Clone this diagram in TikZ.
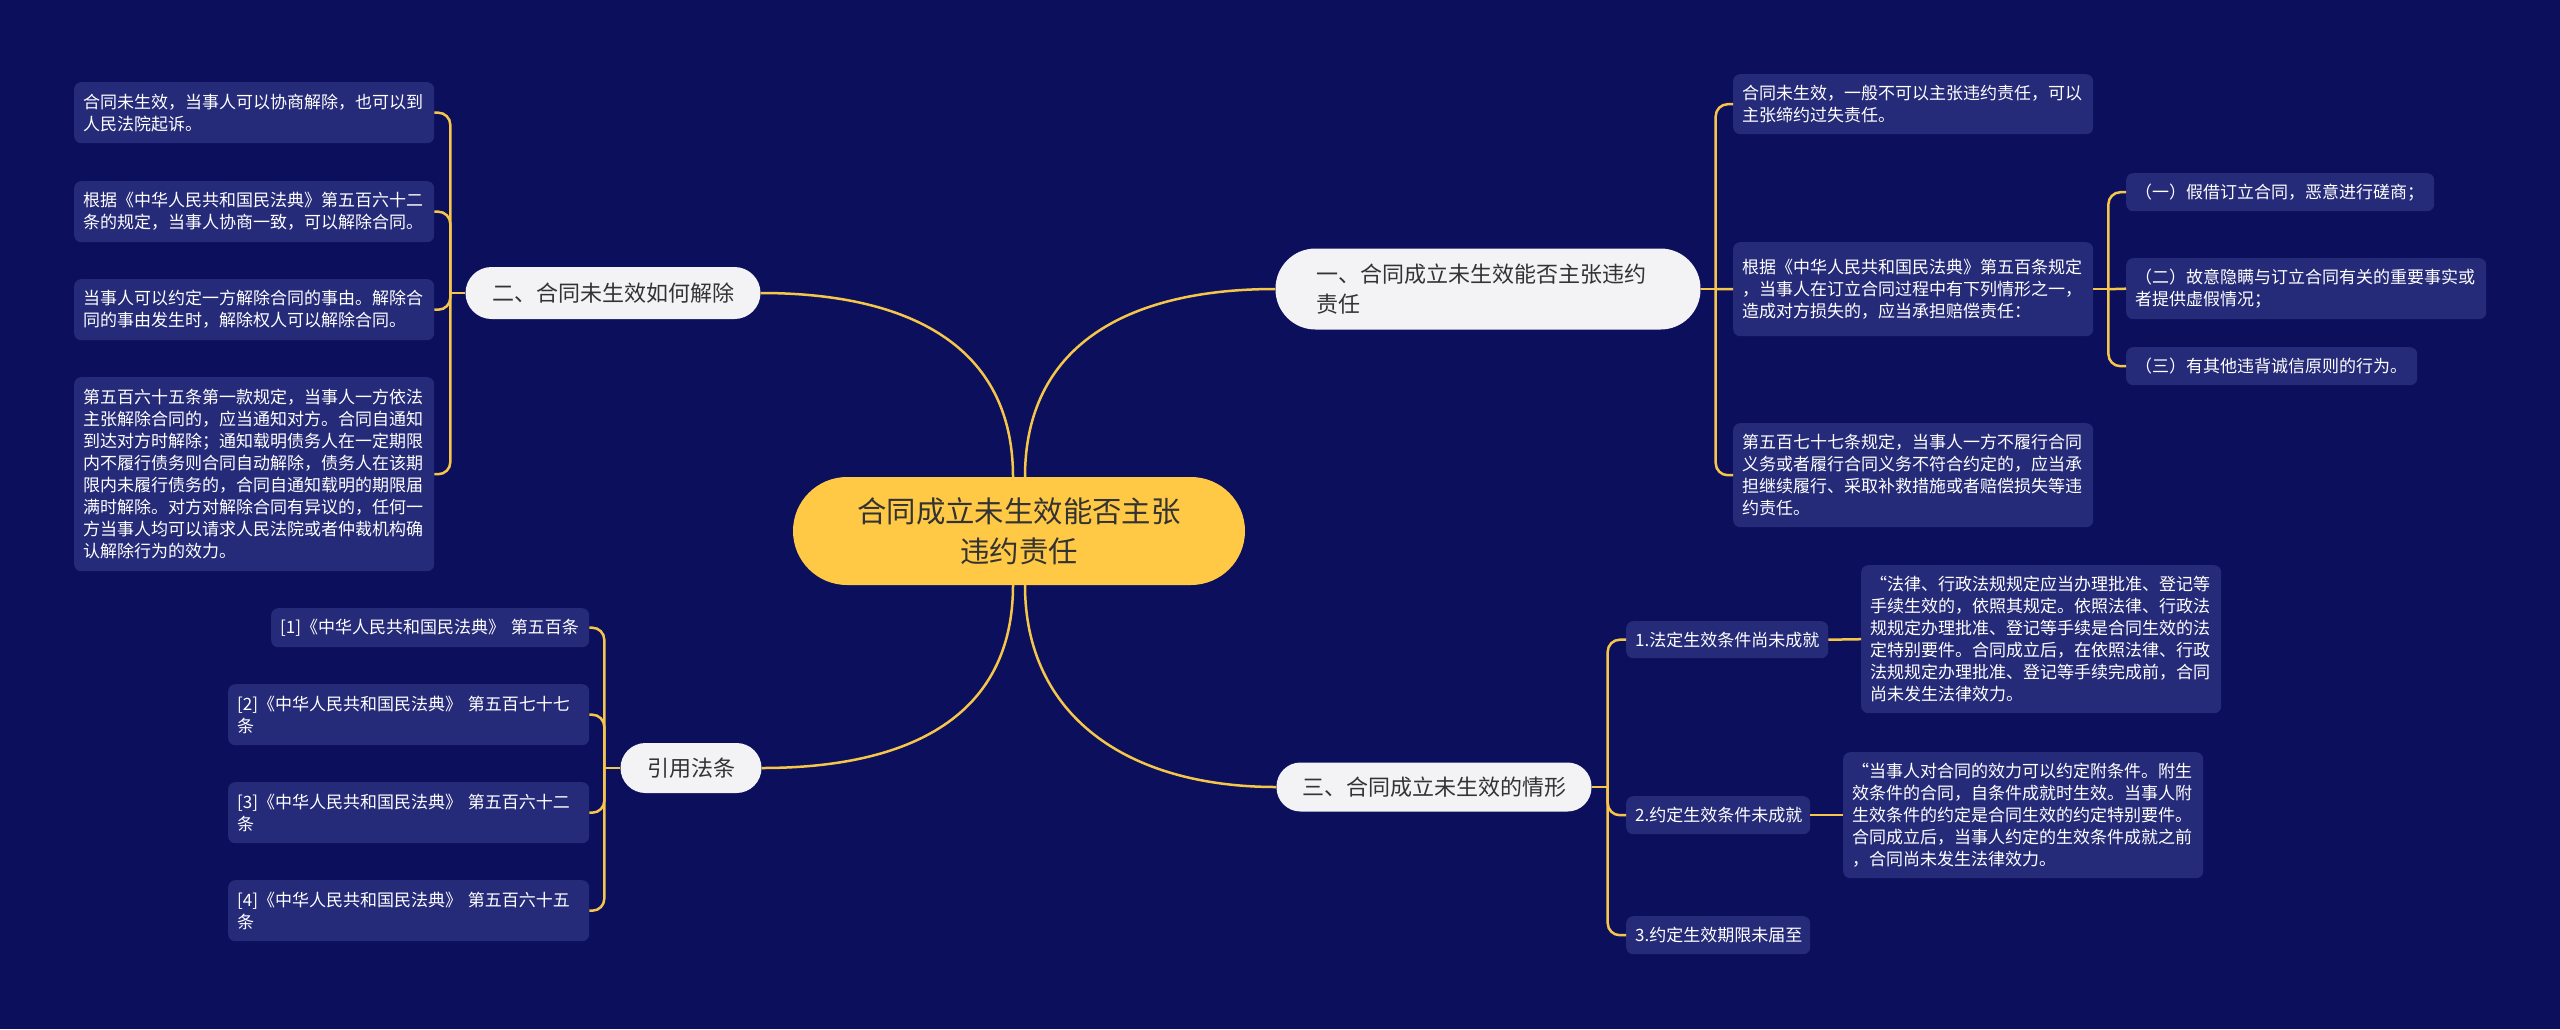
\documentclass[tikz,border=0pt]{standalone}
\usepackage{fontspec}
\newfontfamily\cjk{Noto Sans CJK SC}
\usetikzlibrary{positioning}
\definecolor{bg}{HTML}{0B0F5C}
\definecolor{leafc}{HTML}{262B79}
\definecolor{gold}{HTML}{F6C64B}
\definecolor{pillc}{HTML}{F3F3F6}
\definecolor{rootc}{HTML}{FFC845}
\definecolor{ink}{HTML}{333333}

\begin{document}
\begin{tikzpicture}[x=1pt,y=-1pt,
  leaf/.style={anchor=north west,fill=leafc,rounded corners=7pt,text=white,align=left,
    inner xsep=9pt,inner ysep=0pt,font=\cjk\fontsize{17}{22}\selectfont},
  pill/.style={fill=pillc,text=ink,inner ysep=0pt,align=center,font=\cjk\fontsize{22}{30}\selectfont},
  ln/.style={draw=gold,line width=2.5pt},
  rc/.style={rounded corners=12pt}]
\fill[bg] (0,0) rectangle (2560,1029);
\useasboundingbox (0,0) rectangle (2560,1029);

% centre and main branches
\node[fill=rootc,rounded corners=54pt,minimum width=452pt,minimum height=108pt,align=center,text=ink,
  font=\cjk\fontsize{29.4}{40}\selectfont] (root) at (1019,531) {合同成立未生效能否主张\\违约责任};
\node[pill,rounded corners=26pt,minimum width=295pt,minimum height=52pt] (b2) at (613,293) {二、合同未生效如何解除};
\node[pill,rounded corners=40pt,text width=343pt,inner xsep=41pt,minimum height=81pt,align=left] (b1) at (1488,289) {一、合同成立未生效能否主张违约\\责任};
\node[pill,rounded corners=24pt,minimum width=315pt,minimum height=49pt] (b3) at (1434,787) {三、合同成立未生效的情形};
\node[pill,rounded corners=25pt,minimum width=141pt,minimum height=50pt] (b4) at (691,768) {引用法条};

% left: how to dissolve
\node[leaf,text width=342pt,minimum height=61pt] (l1) at (74,82) {合同未生效，当事人可以协商解除，也可以到\\人民法院起诉。};
\node[leaf,text width=342pt,minimum height=61pt] (l2) at (74,181) {根据《中华人民共和国民法典》第五百六十二\\条的规定，当事人协商一致，可以解除合同。};
\node[leaf,text width=342pt,minimum height=61pt] (l3) at (74,279) {当事人可以约定一方解除合同的事由。解除合\\同的事由发生时，解除权人可以解除合同。};
\node[leaf,text width=342pt,minimum height=194pt] (l4) at (74,377) {第五百六十五条第一款规定，当事人一方依法\\主张解除合同的，应当通知对方。合同自通知\\到达对方时解除；通知载明债务人在一定期限\\内不履行债务则合同自动解除，债务人在该期\\限内未履行债务的，合同自通知载明的期限届\\满时解除。对方对解除合同有异议的，任何一\\方当事人均可以请求人民法院或者仲裁机构确\\认解除行为的效力。};

% right top: liability
\node[leaf,text width=342pt,minimum height=60pt] (r1) at (1733,74) {合同未生效，一般不可以主张违约责任，可以\\主张缔约过失责任。};
\node[leaf,text width=342pt,minimum height=94pt] (r2) at (1733,242) {根据《中华人民共和国民法典》第五百条规定\\，当事人在订立合同过程中有下列情形之一，\\造成对方损失的，应当承担赔偿责任：};
\node[leaf,text width=342pt,minimum height=104pt] (r3) at (1733,423) {第五百七十七条规定，当事人一方不履行合同\\义务或者履行合同义务不符合约定的，应当承\\担继续履行、采取补救措施或者赔偿损失等违\\约责任。};
\node[leaf,text width=290pt,minimum height=38pt] (s1) at (2126,173) {（一）假借订立合同，恶意进行磋商；};
\node[leaf,text width=342pt,minimum height=61pt] (s2) at (2126,258) {（二）故意隐瞒与订立合同有关的重要事实或\\者提供虚假情况；};
\node[leaf,text width=273pt,minimum height=38pt] (s3) at (2126,347) {（三）有其他违背诚信原则的行为。};

% right bottom: cases
\node[leaf,text width=184pt,minimum height=37pt] (t1) at (1626,621) {1.法定生效条件尚未成就};
\node[leaf,text width=342pt,minimum height=148pt] (t1d) at (1861,565) {“法律、行政法规规定应当办理批准、登记等\\手续生效的，依照其规定。依照法律、行政法\\规规定办理批准、登记等手续是合同生效的法\\定特别要件。合同成立后，在依照法律、行政\\法规规定办理批准、登记等手续完成前，合同\\尚未发生法律效力。};
\node[leaf,text width=166pt,minimum height=38pt] (t2) at (1626,796) {2.约定生效条件未成就};
\node[leaf,text width=342pt,minimum height=126pt] (t2d) at (1843,752) {“当事人对合同的效力可以约定附条件。附生\\效条件的合同，自条件成就时生效。当事人附\\生效条件的约定是合同生效的约定特别要件。\\合同成立后，当事人约定的生效条件成就之前\\，合同尚未发生法律效力。};
\node[leaf,text width=166pt,minimum height=38pt] (t3) at (1626,916) {3.约定生效期限未届至};

% left bottom: cited articles
\node[leaf,text width=300pt,minimum height=39pt] (f1) at (271,608) {[1]《中华人民共和国民法典》 第五百条};
\node[leaf,text width=343pt,minimum height=61pt] (f2) at (228,684) {[2]《中华人民共和国民法典》 第五百七十七\\条};
\node[leaf,text width=343pt,minimum height=61pt] (f3) at (228,782) {[3]《中华人民共和国民法典》 第五百六十二\\条};
\node[leaf,text width=343pt,minimum height=61pt] (f4) at (228,880) {[4]《中华人民共和国民法典》 第五百六十五\\条};

% links from the centre
\draw[ln] ([xshift=-6pt]root.north) .. controls +(0,-130) and +(150,0) .. (b2.east);
\draw[ln] ([xshift=6pt]root.north) .. controls +(0,-130) and +(-150,0) .. (b1.west);
\draw[ln] ([xshift=-6pt]root.south) .. controls +(0,130) and +(150,0) .. (b4.east);
\draw[ln] ([xshift=6pt]root.south) .. controls +(0,130) and +(-150,0) .. (b3.west);

% branch trunks
\draw[ln] (b2.west) -- ++(-15,0) coordinate (j2);
\foreach \n in {l1,l2,l3,l4} \draw[ln,rc] (j2) |- (\n.east);
\draw[ln] (b1.east) -- ++(15,0) coordinate (j1);
\foreach \n in {r1,r3} \draw[ln,rc] (j1) |- (\n.west);
\draw[ln] (j1) -- (r2.west);
\draw[ln] (r2.east) -- ++(15,0) coordinate (j5);
\foreach \n in {s1,s3} \draw[ln,rc] (j5) |- (\n.west);
\draw[ln] (j5) -- (s2.west);
\draw[ln] (b3.east) -- ++(16,0) coordinate (j3);
\foreach \n in {t1,t2,t3} \draw[ln,rc] (j3) |- (\n.west);
\draw[ln] (t1.east) -- (t1d.west);
\draw[ln] (t2.east) -- (t2d.west);
\draw[ln] (b4.west) -- ++(-16,0) coordinate (j4);
\foreach \n in {f1,f2,f3,f4} \draw[ln,rc] (j4) |- (\n.east);
\end{tikzpicture}
\end{document}
